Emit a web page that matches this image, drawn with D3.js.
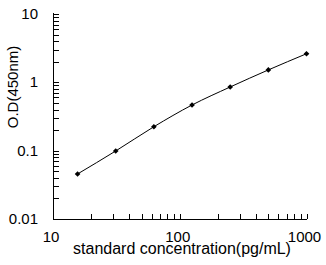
<!DOCTYPE html>
<html><head><meta charset="utf-8">
<script src="https://cdnjs.cloudflare.com/ajax/libs/d3/7.8.5/d3.min.js"></script>
<style>body{margin:0;background:#fff}svg{display:block}text{font-family:"Liberation Sans",Arial,sans-serif;fill:#000}</style>
</head><body><svg id="c" width="326" height="265"></svg>
<script>
const concentrations = [15.625, 31.25, 62.5, 125, 250, 500, 1000];
const odValues = [0.0456, 0.099, 0.224, 0.466, 0.855, 1.52, 2.62];
const xTickLabels = [10, 100, 1000];
const yTickLabels = [0.01, 0.1, 1, 10];
const xTitle = "standard concentration(pg/mL)";
const yTitle = "O.D(450nm)";

const svg = d3.select("#c");
const x = d3.scaleLog().domain([10, 1000]).range([53, 306.5]);
const y = d3.scaleLog().domain([0.01, 10]).range([219, 14]);

const xMinor = [];
for (let d = 10; d < 1000; d *= 10) for (let k = 2; k <= 10; k++) xMinor.push(d * k);
const yMinor = [];
for (let d = 0.01; d < 9; d *= 10) for (let k = 2; k <= 10; k++) yMinor.push(+(d * k).toPrecision(3));

const g = svg.append("g").attr("shape-rendering", "crispEdges");
g.selectAll(".xt").data(xMinor).join("line")
  .attr("x1", d => Math.round(x(d)) + 0.5).attr("x2", d => Math.round(x(d)) + 0.5)
  .attr("y1", 219).attr("y2", 214).attr("stroke", "#000");
g.selectAll(".yt").data(yMinor).join("line")
  .attr("y1", d => Math.round(y(d)) + 0.5).attr("y2", d => Math.round(y(d)) + 0.5)
  .attr("x1", 53).attr("x2", 59).attr("stroke", "#000");
g.append("line").attr("x1", 53.5).attr("x2", 53.5).attr("y1", 13).attr("y2", 220).attr("stroke", "#000");
g.append("line").attr("x1", 53).attr("x2", 307).attr("y1", 219.5).attr("y2", 219.5).attr("stroke", "#000");

svg.selectAll(".xl").data(xTickLabels).join("text")
  .attr("x", d => x(d) - 2).attr("y", 242).attr("text-anchor", "middle")
  .attr("font-size", 15).text(d => d);
svg.selectAll(".yl").data(yTickLabels).join("text")
  .attr("x", 38).attr("y", d => y(d) + 5).attr("text-anchor", "end")
  .attr("font-size", 15).text(d => d);

svg.append("text").attr("x", 182).attr("y", 254).attr("text-anchor", "middle")
  .attr("font-size", 16).text(xTitle);
svg.append("text").attr("transform", "translate(18,87) rotate(-90)").attr("text-anchor", "middle")
  .attr("font-size", 15).text(yTitle);

const line = d3.line().x((d, i) => x(concentrations[i])).y(d => y(d)).curve(d3.curveMonotoneX);
svg.append("path").datum(odValues).attr("d", line).attr("fill", "none").attr("stroke", "#000").attr("stroke-width", 1);

svg.selectAll(".pt").data(odValues).join("path")
  .attr("transform", (d, i) => `translate(${x(concentrations[i])},${y(d)}) rotate(45)`)
  .attr("d", d3.symbol().type(d3.symbolSquare).size(16)).attr("fill", "#000");
</script></body></html>
